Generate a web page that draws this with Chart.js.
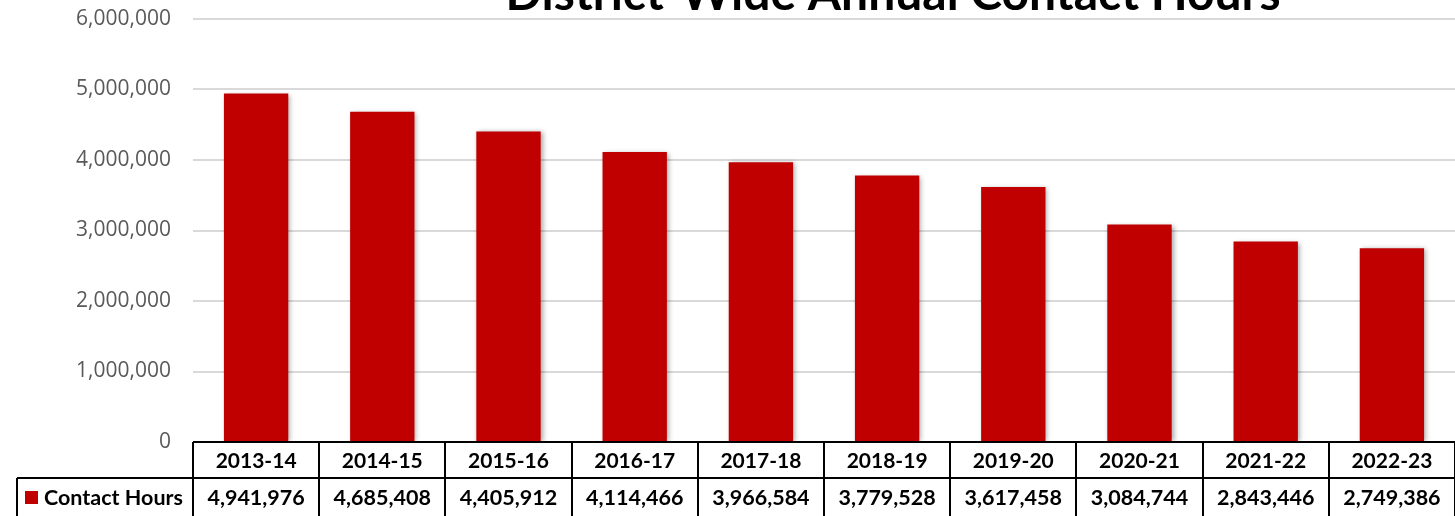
<!DOCTYPE html>
<html>
<head>
<meta charset="utf-8">
<script src="https://cdn.jsdelivr.net/npm/chart.js@4"></script>
<style>
  html, body { margin: 0; padding: 0; background: #fff; overflow: hidden; }
  #wrap { width: 1455px; height: 516px; position: relative; }
</style>
</head>
<body>
<div id="wrap"><canvas id="chart" width="1455" height="516"></canvas></div>
<script>
// === DATA ===
const TITLE = "District-Wide Annual Contact Hours";
const SERIES_NAME = "Contact Hours";
const years = ["2013-14", "2014-15", "2015-16", "2016-17", "2017-18", "2018-19", "2019-20", "2020-21", "2021-22", "2022-23"];
const contactHours = [4941976, 4685408, 4405912, 4114466, 3966584, 3779528, 3617458, 3084744, 2843446, 2749386];
const yTicks = [0, 1000000, 2000000, 3000000, 4000000, 5000000, 6000000];

const BAR_RED = "#C00000";
const fmt = v => v.toLocaleString("en-US");

// bar shadow
const shadowPlugin = {
  id: "barShadow",
  beforeDatasetsDraw(chart) {
    const c = chart.ctx;
    c.save();
    c.shadowColor = "rgba(0,0,0,0.35)";
    c.shadowBlur = 5;
    c.shadowOffsetX = 2;
    c.shadowOffsetY = 1;
  },
  afterDatasetsDraw(chart) { chart.ctx.restore(); }
};

// title (clipped at top) + data table under the plot
const tablePlugin = {
  id: "dataTable",
  afterDraw(chart) {
    const c = chart.ctx;
    const area = chart.chartArea;
    const x = chart.scales.x;
    const colW = x.getPixelForValue(1) - x.getPixelForValue(0);
    const top = area.bottom, mid = top + 36, bot = chart.height + 2;
    const labelLeft = 17;

    c.save();
    // title
    c.fillStyle = "#000";
    c.font = "bold 48px Lato, 'Open Sans', sans-serif";
    c.textAlign = "center";
    c.textBaseline = "alphabetic";
    c.fillText(TITLE, 893, 10);

    // lines
    c.strokeStyle = "#000";
    c.lineWidth = 2;
    c.beginPath();
    c.moveTo(area.left, top); c.lineTo(area.right, top);
    c.moveTo(labelLeft, mid); c.lineTo(area.right, mid);
    c.moveTo(labelLeft, mid); c.lineTo(labelLeft, bot);
    for (let i = 0; i <= years.length; i++) {
      const px = Math.round(x.getPixelForValue(i) - colW / 2);
      c.moveTo(px, top); c.lineTo(px, bot);
    }
    c.stroke();

    // texts
    c.fillStyle = "#000";
    c.textAlign = "center";
    c.textBaseline = "middle";
    c.font = "bold 21px Lato, 'Open Sans', sans-serif";
    years.forEach((y, i) => c.fillText(y, x.getPixelForValue(i), (top + mid) / 2 + 1));
    c.font = "bold 21.5px Lato, 'Open Sans', sans-serif";
    contactHours.forEach((v, i) => c.fillText(fmt(v), x.getPixelForValue(i), (mid + 516) / 2 + 1));

    // legend key + series name
    c.fillStyle = BAR_RED;
    c.fillRect(25, 491, 13, 13);
    c.fillStyle = "#000";
    c.textAlign = "left";
    c.font = "bold 21.5px Lato, 'Open Sans', sans-serif";
    c.fillText(SERIES_NAME, 44, (mid + 516) / 2 + 1);
    c.restore();
  }
};

new Chart(document.getElementById("chart"), {
  type: "bar",
  data: {
    labels: years,
    datasets: [{
      label: SERIES_NAME,
      data: contactHours,
      backgroundColor: BAR_RED,
      borderWidth: 0,
      categoryPercentage: 1,
      barPercentage: 0.51
    }]
  },
  options: {
    responsive: false,
    animation: false,
    layout: { padding: { top: 19, right: 0, bottom: 74, left: 0 } },
    plugins: { legend: { display: false }, tooltip: { enabled: false }, title: { display: false } },
    scales: {
      x: { display: false, offset: true },
      y: {
        min: 0, max: 6000000,
        afterFit(scale) { scale.width = 193; scale.paddingTop = 0; scale.paddingBottom = 0; },
        afterBuildTicks(scale) { scale.ticks = yTicks.map(v => ({ value: v })); },
        ticks: {
          color: "#595959",
          padding: 22,
          font: { family: "'Open Sans', sans-serif", size: 21 },
          callback: v => fmt(v)
        },
        grid: { color: ctx => ctx.tick.value === 0 ? "rgba(0,0,0,0)" : "#d9d9d9", lineWidth: 2, drawTicks: false },
        border: { display: false }
      }
    }
  },
  plugins: [shadowPlugin, tablePlugin]
});
</script>
</body>
</html>
